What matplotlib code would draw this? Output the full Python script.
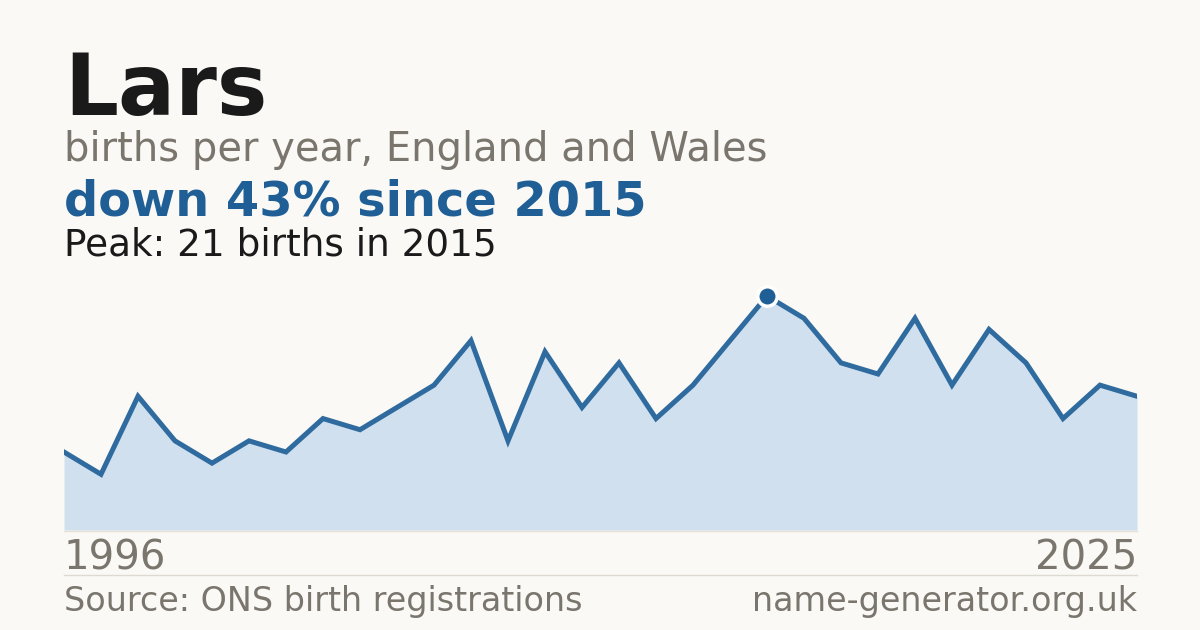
import matplotlib
matplotlib.use("Agg")
import matplotlib.pyplot as plt

years = list(range(1996, 2026))
births = [7, 5, 12, 8, 6, 8, 7, 10, 9, 11, 13, 17, 8, 16, 11, 15, 10, 13, 17, 21,
          19, 15, 14, 19, 13, 18, 15, 10, 13, 12]
peak_year = 2015
peak_value = 21

BG = "#faf9f5"
BLUE = "#1f5f96"
FILL = "#d0e0ef"
GREY = "#7a756d"
DARK = "#1a1a1a"

W, H = 1200, 630
fig = plt.figure(figsize=(12, 6.3), dpi=100, facecolor=BG)

def fy(py):
    return 1 - py / H

ax = fig.add_axes([64 / W, fy(530), (1137 - 64) / W, (530 - 270) / H])
ax.set_facecolor(BG)
ax.fill_between(years, births, 0, color=FILL, linewidth=0, zorder=1)
ax.plot(years, births, color="#2f6b9f", linewidth=3.6, solid_joinstyle="miter", zorder=2)
ax.plot([peak_year], [peak_value], marker="o", markersize=14, color=BLUE,
        markeredgecolor="white", markeredgewidth=2.5, zorder=3, clip_on=False)
ax.set_xlim(years[0], years[-1])
ax.set_ylim(0, 21 * 260 / 234)
ax.axis("off")

# baseline
fig.add_artist(plt.Line2D([64 / W, 1137 / W], [fy(530.5)] * 2, color="#e6e1d8", linewidth=1))
# separator
fig.add_artist(plt.Line2D([64 / W, 1137 / W], [fy(574.5)] * 2, color="#dedad2", linewidth=1))

fig.text(64 / W, fy(115), "Lars", fontsize=61, fontweight="bold", color=DARK, va="baseline")
fig.text(64 / W, fy(161), "births per year, England and Wales", fontsize=28.8, color=GREY, va="baseline")
fig.text(64 / W, fy(215), "down 43% since 2015", fontsize=34.5, fontweight="bold", color=BLUE, va="baseline")
fig.text(64 / W, fy(255), "Peak: 21 births in 2015", fontsize=26.9, color=DARK, va="baseline")
fig.text(64 / W, fy(570), str(years[0]), fontsize=29, color=GREY, va="baseline")
fig.text(1137 / W, fy(570), str(years[-1]), fontsize=29, color=GREY, va="baseline", ha="right")
fig.text(64 / W, fy(611), "Source: ONS birth registrations", fontsize=24, color=GREY, va="baseline")
fig.text(1137 / W, fy(611), "name-generator.org.uk", fontsize=24, color=GREY, va="baseline", ha="right")

fig.savefig("out.png", dpi=100, facecolor=BG)
